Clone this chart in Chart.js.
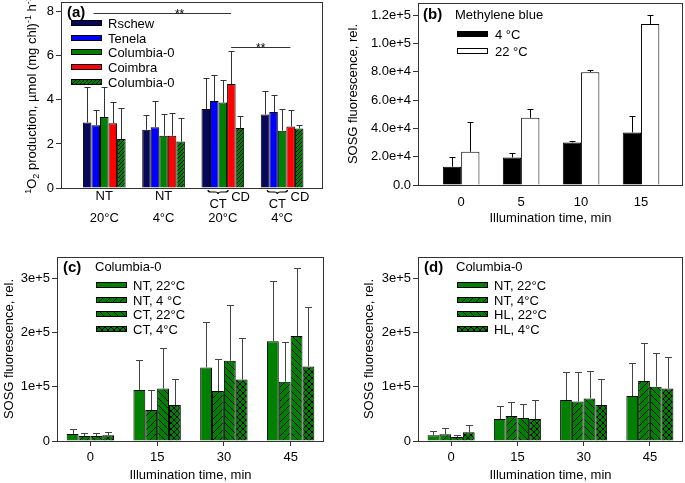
<!DOCTYPE html>
<html>
<head>
<meta charset="utf-8">
<script src="https://cdn.jsdelivr.net/npm/chart.js@4.4.0/dist/chart.umd.min.js"></script>
<style>
  body { margin: 0; background: #fff; }
  #wrap { position: relative; width: 685px; height: 483px; overflow: hidden; }
  canvas { position: absolute; }
</style>
</head>
<body>
<div id="wrap">
  <canvas id="chartA" width="342" height="240" style="left:0;top:0"></canvas>
  <canvas id="chartB" width="343" height="240" style="left:342px;top:0"></canvas>
  <canvas id="chartC" width="342" height="243" style="left:0;top:240px"></canvas>
  <canvas id="chartD" width="343" height="243" style="left:342px;top:240px"></canvas>
</div>
<script>
/* (a) singlet oxygen production */
var groupsA = [["NT", "20°C"], ["NT", "4°C"], ["", "20°C"], ["", "4°C"]];
var seriesA = ["Rschew", "Tenela", "Columbia-0", "Coimbra", "Columbia-0"];
var rschew = [2.97, 2.64, 3.59, 3.33];
var rschewErr = [1.6, 0.68, 1.38, 1.05];
var tenela = [2.85, 2.76, 3.95, 3.45];
var tenelaErr = [0.7, 1.21, 1.2, 0.75];
var columbia = [3.22, 2.37, 3.88, 2.6];
var columbiaErr = [1.36, 1.0, 1.0, 0.99];
var coimbra = [2.94, 2.37, 4.72, 2.79];
var coimbraErr = [0.94, 1.03, 1.5, 0.73];
var columbiaCD = [2.22, 2.11, 2.72, 2.7];
var columbiaCDErr = [1.4, 1.06, 0.53, 0.17];
var ticksA = [0, 2, 4, 6, 8];
// significance bars: from, to, height, star position
var sigA = [[-0.18, 2.14, 7.93, 1.27], [2.14, 3.14, 6.41, 2.64]];

/* (b) methylene blue */
var timesB = ["0", "5", "10", "15"];
var mb4 = [12900, 19500, 30100, 37200];
var mb4Err = [7100, 3300, 1200, 11500];
var mb22 = [23500, 47500, 79800, 113900];
var mb22Err = [20700, 6100, 1800, 6600];
var ticksB = [0, 20000, 40000, 60000, 80000, 100000, 120000];

/* (c) Columbia-0, NT / CT */
var timesC = ["0", "15", "30", "45"];
var ntWarmC = [12900, 93900, 135600, 184000];
var ntWarmCErr = [9100, 54600, 82800, 110500];
var ntColdC = [9200, 57000, 92000, 109200];
var ntColdCErr = [6100, 37500, 58300, 72400];
var ctWarmC = [9200, 96900, 147900, 193300];
var ctWarmCErr = [6100, 73700, 102400, 126300];
var ctColdC = [10400, 66300, 113500, 137400];
var ctColdCErr = [6200, 47200, 76100, 108600];

/* (d) Columbia-0, NT / HL */
var timesD = ["0", "15", "30", "45"];
var ntWarmD = [10400, 40500, 75500, 82800];
var ntWarmDErr = [8600, 24500, 52100, 60200];
var ntColdD = [12300, 46000, 73000, 110400];
var ntColdDErr = [11000, 26400, 54600, 69400];
var hlWarmD = [7400, 42300, 78500, 100000];
var hlWarmDErr = [3000, 25800, 50300, 62600];
var hlColdD = [16000, 40500, 66300, 96900];
var hlColdDErr = [13400, 34300, 47200, 58300];
var ticksCD = [0, 100000, 200000, 300000];

var FAMILY = '"Liberation Sans", Arial, sans-serif';
Chart.defaults.font.family = FAMILY;
Chart.defaults.font.size = 13;
Chart.defaults.color = "#000";
Chart.defaults.animation = false;

var navy = "#08085a", blue = "#0000ff", green = "#008000", red = "#ff0000";

var hatch = (kind, gap) => {
  var c = document.createElement("canvas");
  c.width = gap; c.height = gap;
  var g = c.getContext("2d");
  g.fillStyle = green;
  g.fillRect(0, 0, gap, gap);
  g.strokeStyle = "#000";
  g.lineWidth = 1;
  g.beginPath();
  if (kind == "fwd" || kind == "cross") {
    g.moveTo(-1, gap + 1); g.lineTo(gap + 1, -1);
    g.moveTo(-2, 2); g.lineTo(2, -2);
    g.moveTo(gap - 2, gap + 2); g.lineTo(gap + 2, gap - 2);
  }
  if (kind == "back" || kind == "cross") {
    g.moveTo(-1, -1); g.lineTo(gap + 1, gap + 1);
    g.moveTo(gap - 2, -2); g.lineTo(gap + 2, 2);
    g.moveTo(-2, gap - 2); g.lineTo(2, gap + 2);
  }
  g.stroke();
  return g.createPattern(c, "repeat");
};

/* plugins */
var frame = {
  id: "frame",
  afterDatasetsDraw: chart => {
    var a = chart.chartArea, ctx = chart.ctx;
    ctx.save();
    ctx.strokeStyle = "#333";
    ctx.lineWidth = 1;
    var l = Math.round(a.left), t = Math.round(a.top), r = Math.round(a.right), b = Math.round(a.bottom);
    ctx.strokeRect(l + 0.5, t + 0.5, r - l - 1, b - t);
    ctx.restore();
  }
};

var errorBars = {
  id: "errorBars",
  afterDatasetsDraw: (chart, args, opts) => {
    var ctx = chart.ctx, ys = chart.scales.y;
    ctx.save();
    ctx.strokeStyle = opts.color || "#333";
    ctx.lineWidth = 1;
    chart.data.datasets.forEach((ds, i) => {
      if (!ds.errors) return;
      var meta = chart.getDatasetMeta(i);
      meta.data.forEach((bar, j) => {
        var v = meta.controller.getParsed(j).y;
        var top = Math.round(ys.getPixelForValue(v + ds.errors[j])) + 0.5;
        var x = Math.round(bar.x) + 0.5;
        var half = (opts.cap || 6) / 2;
        ctx.beginPath();
        ctx.moveTo(x, bar.y);
        ctx.lineTo(x, top);
        ctx.moveTo(x - half, top);
        ctx.lineTo(x + half, top);
        ctx.stroke();
      });
    });
    ctx.restore();
  }
};
Chart.register(frame, errorBars);

var drawLegend = (chart, boxX, y0, dy, textX) => {
  var ctx = chart.ctx;
  ctx.save();
  ctx.font = "13px " + FAMILY;
  ctx.textBaseline = "middle";
  chart.data.datasets.forEach((ds, i) => {
    var y = Math.round(y0 + i * dy);
    ctx.fillStyle = ds.backgroundColor;
    ctx.fillRect(boxX, y - 3, 31, 6);
    ctx.strokeStyle = "#000";
    ctx.lineWidth = 1;
    ctx.strokeRect(boxX + 0.5, y - 2.5, 30, 5);
    ctx.fillStyle = "#000";
    ctx.fillText(ds.label, textX, y + 1);
  });
  ctx.restore();
};

var drawText = (ctx, text, x, y, font, align) => {
  ctx.save();
  ctx.font = font;
  ctx.fillStyle = "#000";
  ctx.textAlign = align || "left";
  ctx.textBaseline = "middle";
  ctx.fillText(text, x, y);
  ctx.restore();
};

var sci = digits => v => {
  if (v === 0) return digits ? (0).toFixed(digits) : "0";
  var e = Math.floor(Math.log10(v) + 1e-9);
  return (v / Math.pow(10, e)).toFixed(digits) + "e+" + e;
};

var yAxis = (max, tickValues, fmt, width, title) => ({
  min: 0,
  max: max,
  afterBuildTicks: s => { s.ticks = tickValues.map(v => ({ value: v })); },
  afterFit: s => { s.width = width; s.paddingTop = 0; s.paddingBottom = 0; },
  ticks: { padding: 2, callback: fmt },
  grid: { drawOnChartArea: false, tickLength: 5, color: "#333" },
  border: { display: false },
  title: title || { display: false }
});

var bars = (label, values, errs, fill, linear) => ({
  label: label,
  data: linear ? values.map((v, i) => ({ x: i, y: v })) : values,
  errors: errs,
  backgroundColor: fill,
  borderColor: "#000",
  borderWidth: 1
});

/* ---------- (a) ---------- */
var panelA = {
  id: "panelA",
  afterDraw: chart => {
    var ctx = chart.ctx, a = chart.chartArea, xs = chart.scales.x, ys = chart.scales.y;
    drawText(ctx, "(a)", a.left + 6, a.top + 11, "bold 15px " + FAMILY);
    drawLegend(chart, a.left + 10, a.top + 21, 14.7, a.left + 47);

    // y title with super/subscripts
    var parts = [["1", "sup"], ["O", "n"], ["2", "sub"], [" production, µmol (mg chl)", "n"], ["-1", "sup"], [" h", "n"], ["-1", "sup"]];
    var size = 13, small = 9;
    ctx.save();
    ctx.translate(31, (a.top + a.bottom) / 2);
    ctx.rotate(-Math.PI / 2);
    ctx.fillStyle = "#000";
    ctx.textBaseline = "alphabetic";
    var total = 0;
    parts.forEach(p => { ctx.font = (p[1] == "n" ? size : small) + "px " + FAMILY; total += ctx.measureText(p[0]).width; });
    var x = -total / 2;
    parts.forEach(p => {
      ctx.font = (p[1] == "n" ? size : small) + "px " + FAMILY;
      var dy = p[1] == "sup" ? -5 : p[1] == "sub" ? 3 : 0;
      ctx.fillText(p[0], x, 4.7 + dy);
      x += ctx.measureText(p[0]).width;
    });
    ctx.restore();

    // significance lines
    ctx.save();
    ctx.strokeStyle = "#333";
    ctx.lineWidth = 1;
    sigA.forEach(s => {
      var y = Math.round(ys.getPixelForValue(s[2])) + 0.5;
      ctx.beginPath();
      ctx.moveTo(xs.getPixelForValue(s[0]), y);
      ctx.lineTo(xs.getPixelForValue(s[1]), y);
      ctx.stroke();
      ctx.font = "12px " + FAMILY;
      ctx.textAlign = "center";
      ctx.fillStyle = "#000";
      ctx.fillText("**", xs.getPixelForValue(s[3]), y + 4);
    });
    ctx.restore();

    // CT braces and CD labels
    [2, 3].forEach(g => {
      var c = xs.getPixelForValue(g - 0.08);
      var half = xs.getPixelForValue(0.17) - xs.getPixelForValue(0);
      var y = a.bottom + 2, d = 4, r = 3;
      ctx.save();
      ctx.strokeStyle = "#000";
      ctx.lineWidth = 1.2;
      ctx.beginPath();
      ctx.moveTo(c - half, y);
      ctx.quadraticCurveTo(c - half, y + d / 2, c - half + r, y + d / 2);
      ctx.lineTo(c - r, y + d / 2);
      ctx.quadraticCurveTo(c, y + d / 2, c, y + d);
      ctx.quadraticCurveTo(c, y + d / 2, c + r, y + d / 2);
      ctx.lineTo(c + half - r, y + d / 2);
      ctx.quadraticCurveTo(c + half, y + d / 2, c + half, y);
      ctx.stroke();
      ctx.restore();
      drawText(ctx, "CT", c, a.bottom + 16.5, "13px " + FAMILY, "center");
      drawText(ctx, "CD", xs.getPixelForValue(g + 0.3), a.bottom + 9, "13px " + FAMILY, "center");
    });
  }
};

new Chart("chartA", {
  type: "bar",
  data: {
    datasets: [
      bars(seriesA[0], rschew, rschewErr, navy, true),
      bars(seriesA[1], tenela, tenelaErr, blue, true),
      bars(seriesA[2], columbia, columbiaErr, green, true),
      bars(seriesA[3], coimbra, coimbraErr, red, true),
      bars(seriesA[4], columbiaCD, columbiaCDErr, hatch("fwd", 4), true)
    ]
  },
  options: {
    responsive: false,
    layout: { padding: { left: 0, right: 19, top: 2, bottom: 0 } },
    datasets: { bar: { categoryPercentage: 0.72, barPercentage: 1 } },
    scales: {
      x: {
        type: "linear", min: -0.73, max: 3.69, offset: false,
        afterBuildTicks: s => { s.ticks = groupsA.map((g, i) => ({ value: i })); },
        afterFit: s => { s.height = 52; s.paddingLeft = 0; s.paddingRight = 0; },
        ticks: { padding: -2, autoSkip: false, maxRotation: 0, font: { size: 13, lineHeight: 1.65 }, callback: (v, i) => groupsA[i] },
        grid: { drawOnChartArea: false, drawTicks: false, offset: false },
        border: { display: false }
      },
      y: yAxis(8.44, ticksA, v => v, 61)
    },
    plugins: { legend: { display: false }, tooltip: { enabled: false }, errorBars: { cap: 6, color: "#333" } }
  },
  plugins: [panelA]
});

/* ---------- (b) ---------- */
var panelB = {
  id: "panelB",
  afterDraw: chart => {
    var ctx = chart.ctx, a = chart.chartArea;
    drawText(ctx, "(b)", a.left + 5, a.top + 12, "bold 15px " + FAMILY);
    drawText(ctx, "Methylene blue", a.left + 37, a.top + 12, "13px " + FAMILY);
    drawLegend(chart, a.left + 39, a.top + 31, 17, a.left + 77);
  }
};

new Chart("chartB", {
  type: "bar",
  data: {
    datasets: [
      bars("4 °C", mb4, mb4Err, "#000", true),
      bars("22 °C", mb22, mb22Err, "#fff", true)
    ]
  },
  options: {
    responsive: false,
    layout: { padding: { left: 0, right: 2, top: 3, bottom: 0 } },
    datasets: { bar: { categoryPercentage: 0.61, barPercentage: 1 } },
    scales: {
      x: {
        type: "linear", min: -0.72, max: 3.7, offset: false,
        afterBuildTicks: s => { s.ticks = timesB.map((t, i) => ({ value: i })); },
        afterFit: s => { s.height = 55; s.paddingLeft = 0; s.paddingRight = 0; },
        ticks: { padding: 10, autoSkip: false, maxRotation: 0, callback: (v, i) => timesB[i] },
        grid: { drawOnChartArea: false, drawTicks: false, offset: false },
        border: { display: false },
        title: { display: true, text: "Illumination time, min", padding: { top: 0, bottom: 14 } }
      },
      y: yAxis(128700, ticksB, sci(1), 76, { display: true, text: "SOSG fluorescence, rel.", padding: { top: 4, bottom: 0 } })
    },
    plugins: { legend: { display: false }, tooltip: { enabled: false }, errorBars: { cap: 6, color: "#000" } }
  },
  plugins: [panelB]
});

/* ---------- (c) and (d) ---------- */
var sosgChart = (id, label, times, sets, width, right, titlePad) => {
  var panel = {
    id: "panel" + label,
    afterDraw: chart => {
      var ctx = chart.ctx, a = chart.chartArea;
      drawText(ctx, "(" + label + ")", a.left + 6, a.top + 10.5, "bold 15px " + FAMILY);
      drawText(ctx, "Columbia-0", a.left + 38, a.top + 10.5, "13px " + FAMILY);
      drawLegend(chart, a.left + 39, a.top + 28, 14.5, a.left + 76);
    }
  };
  return new Chart(id, {
    type: "bar",
    data: { labels: times, datasets: sets },
    options: {
      responsive: false,
      layout: { padding: { left: 0, right: right, top: 17, bottom: 0 } },
      datasets: { bar: { categoryPercentage: 0.71, barPercentage: 1 } },
      scales: {
        x: {
          type: "category", offset: true,
          afterFit: s => { s.height = 42; s.paddingLeft = 0; s.paddingRight = 0; },
          ticks: { padding: 4, maxRotation: 0 },
          grid: { drawOnChartArea: false, offset: false, tickLength: 5, color: "#333" },
          border: { display: false },
          title: { display: true, text: "Illumination time, min", padding: { top: 0, bottom: 0 } }
        },
        y: yAxis(339000, ticksCD, sci(0), width, { display: true, text: "SOSG fluorescence, rel.", padding: { top: titlePad, bottom: 0 } })
      },
      plugins: { legend: { display: false }, tooltip: { enabled: false }, errorBars: { cap: 7, color: "#444" } }
    },
    plugins: [panel]
  });
};

sosgChart("chartC", "c", timesC, [
  bars("NT, 22°C", ntWarmC, ntWarmCErr, green),
  bars("NT, 4 °C", ntColdC, ntColdCErr, hatch("fwd", 7)),
  bars("CT, 22°C", ctWarmC, ctWarmCErr, hatch("back", 7)),
  bars("CT, 4°C", ctColdC, ctColdCErr, hatch("cross", 6))
], 57, 18, 2);

sosgChart("chartD", "d", timesD, [
  bars("NT, 22°C", ntWarmD, ntWarmDErr, green),
  bars("NT, 4°C", ntColdD, ntColdDErr, hatch("fwd", 7)),
  bars("HL, 22°C", hlWarmD, hlWarmDErr, hatch("back", 7)),
  bars("HL, 4°C", hlColdD, hlColdDErr, hatch("cross", 6))
], 76, 2, 20);
</script>
</body>
</html>
